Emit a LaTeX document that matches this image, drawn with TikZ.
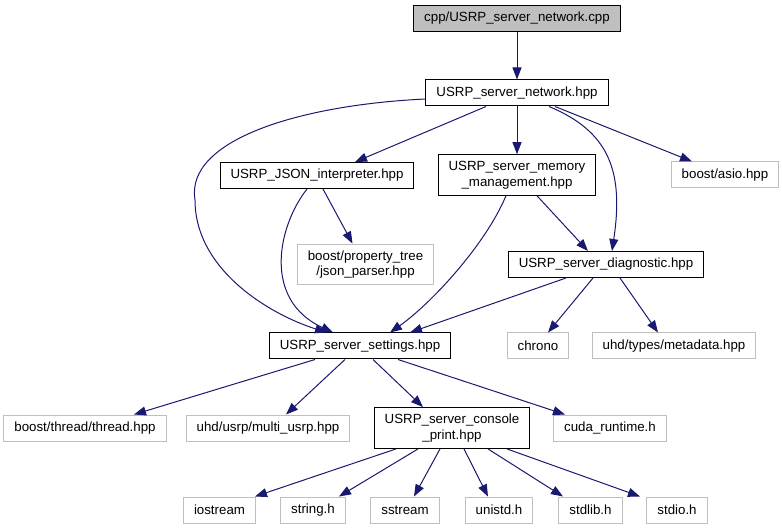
\documentclass[tikz,border=0pt]{standalone}
\usepackage{fontspec}
\setmainfont{Liberation Sans}
\usetikzlibrary{
  arrows.meta % For arrow tips
}
\definecolor{edgeblue}{RGB}{25,25,112}
\definecolor{extgray}{RGB}{191,191,191}

\begin{document}
\begin{tikzpicture}[
    x=1pt, y=-1pt,
    >={Triangle[length=12pt, width=9pt]}, % Default arrow tip
    every node/.style={font=\fontsize{13.3}{15.5}\selectfont, inner xsep=10.5pt,
      inner ysep=6.5pt, minimum height=26pt, align=center, line width=1pt},
    hdr/.style={draw=black}, % Eigene Header
    ext/.style={draw=extgray}, % Externe Header
    dep/.style={edgeblue, line width=1pt, ->}, % Include-Kanten
  ]
  \useasboundingbox (0,0) rectangle (782,529);

  % Knoten
  \node[hdr, fill=extgray] (cpp) at (517,18.5) {cpp/USRP\_server\_network.cpp};
  \node[hdr] (net) at (517,93) {USRP\_server\_network.hpp};
  \node[hdr] (json) at (317,175.5) {USRP\_JSON\_interpreter.hpp};
  \node[hdr] (mem) at (517,175) {USRP\_server\_memory\\\_management.hpp};
  \node[ext] (asio) at (725,175) {boost/asio.hpp};
  \node[ext] (jsonp) at (365.5,264.5) {boost/property\_tree\\/json\_parser.hpp};
  \node[hdr] (diag) at (606,264.5) {USRP\_server\_diagnostic.hpp};
  \node[hdr] (sett) at (360,346) {USRP\_server\_settings.hpp};
  \node[ext] (chrono) at (538,346) {chrono};
  \node[ext] (meta) at (674,346) {uhd/types/metadata.hpp};
  \node[ext] (thr) at (85,428) {boost/thread/thread.hpp};
  \node[ext] (musrp) at (268,428) {uhd/usrp/multi\_usrp.hpp};
  \node[hdr] (cons) at (452,428) {USRP\_server\_console\\\_print.hpp};
  \node[ext] (cuda) at (610,428) {cuda\_runtime.h};
  \node[ext] (ios) at (219.5,510) {iostream};
  \node[ext] (strh) at (313,510) {string.h};
  \node[ext] (sstr) at (405,510) {sstream};
  \node[ext] (unih) at (499,510) {unistd.h};
  \node[ext] (stdl) at (590.5,510) {stdlib.h};
  \node[ext] (stdi) at (677,510) {stdio.h};

  % Kanten oben
  \draw[dep] (cpp) -- (net);
  \draw[dep] ([xshift=-31pt]net.south) -- ([xshift=38pt]json.north);
  \draw[dep] (net) -- (mem);
  \draw[dep] ([xshift=38pt]net.south) -- ([xshift=-33pt]asio.north);
  \draw[dep] ([xshift=32pt]net.south) .. controls +(60,25) and +(12,-80) .. ([xshift=6pt]diag.north);
  \draw[dep] ([yshift=-6pt]net.west) .. controls +(-126,6) and +(-10,-60) .. (195,200)
    .. controls +(0,70) and +(-57,-18) .. ([xshift=-33pt]sett.north);

  % Kanten Mitte
  \draw[dep] ([xshift=6pt]json.south) -- ([xshift=-13pt]jsonp.north);
  \draw[dep] ([xshift=-10pt]json.south) .. controls +(-29,37) and +(-71,-33) .. ([xshift=-27pt]sett.north);
  \draw[dep] ([xshift=-11pt]mem.south) .. controls +(-21,50) and +(40,-28) .. ([xshift=30pt]sett.north);
  \draw[dep] ([xshift=20pt]mem.south) -- ([xshift=-18pt]diag.north);
  \draw[dep] ([xshift=-40pt]diag.south) -- ([xshift=50pt]sett.north);
  \draw[dep] ([xshift=-13pt]diag.south) -- ([xshift=10pt]chrono.north);
  \draw[dep] ([xshift=14pt]diag.south) -- ([xshift=-16pt]meta.north);

  % Kanten unten
  \foreach \dst/\a/\b in {thr/-45/49, musrp/-15/18, cons/13/-29, cuda/38/-45}
    \draw[dep] ([xshift=\a pt]sett.south) -- ([xshift=\b pt]\dst.north);
  \foreach \dst/\a/\b in {ios/-56/35.5, strh/-34/26, sstr/-12/9, unih/12/-11, stdl/36/-27.5, stdi/55/-37}
    \draw[dep] ([xshift=\a pt]cons.south) -- ([xshift=\b pt]\dst.north);
\end{tikzpicture}
\end{document}
